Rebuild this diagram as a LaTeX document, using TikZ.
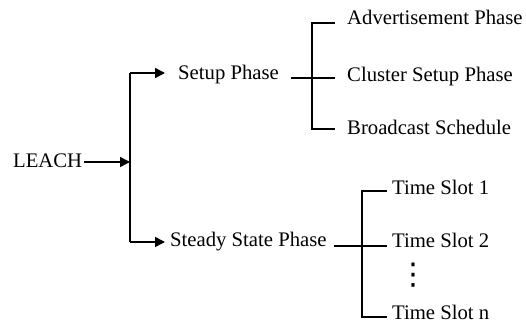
\documentclass[tikz,border=0pt]{standalone}
\usepackage{fontspec}
\setmainfont{Liberation Serif}
\newfontfamily\dejavu{DejaVu Sans}
\usetikzlibrary{arrows.meta}
\begin{document}
\begin{tikzpicture}[x=1pt,y=-1pt,
  txt/.style={inner sep=0pt, anchor=west, font=\fontsize{20.7}{24}\selectfont},
  line/.style={line width=1.5pt},
  arr/.style={line, -{Triangle[length=10pt,width=10pt]}}]
\useasboundingbox (0,0) rectangle (526,324);
% nodes
\node[txt] (leach) at (13,161) {LEACH};
\node[txt] (setup) at (178,75) {Setup Phase};
\node[txt] (steady) at (170,242) {Steady State Phase};
\node[txt] (adv) at (347,17) {Advertisement Phase};
\node[txt] (cluster) at (347,77) {Cluster Setup Phase};
\node[txt] (bcast) at (347,127) {Broadcast Schedule};
\node[txt] (ts1) at (392,187) {Time Slot 1};
\node[txt] (ts2) at (392,240) {Time Slot 2};
\node[txt] (tsn) at (392,312) {Time Slot n};
\node[inner sep=0pt, font=\dejavu\fontsize{30}{30}\selectfont] (dots) at (413,275) {⋮};
% main fork
\coordinate (mfork) at (130,162);
\coordinate (mtop) at (130,73);
\coordinate (mbot) at (130,242);
\draw[arr] ([xshift=2pt]leach.east |- mfork) -- (mfork);
\draw[line] (mtop) -- (mbot);
\draw[arr] (mtop) -- ([xshift=-13pt]setup.west |- mtop);
\draw[arr] (mbot) -- ([xshift=-5pt]steady.west |- mbot);
% setup fork
\coordinate (sfork) at (312,78);
\coordinate (stop) at (312,23);
\coordinate (sbot) at (312,129);
\draw[line] ([xshift=12pt]setup.east |- sfork) -- ([xshift=-12pt]cluster.west |- sfork);
\draw[line] ([xshift=-12pt]adv.west |- stop) -- (stop) -- (sbot) -- ([xshift=-12pt]bcast.west |- sbot);
% steady fork
\coordinate (tfork) at (362,246);
\coordinate (ttop) at (362,191);
\coordinate (tbot) at (362,317);
\draw[line] ([xshift=7pt]steady.east |- tfork) -- ([xshift=-5pt]ts2.west |- tfork);
\draw[line] ([xshift=-5pt]ts1.west |- ttop) -- (ttop) -- (tbot) -- ([xshift=-5pt]tsn.west |- tbot);
\end{tikzpicture}
\end{document}
